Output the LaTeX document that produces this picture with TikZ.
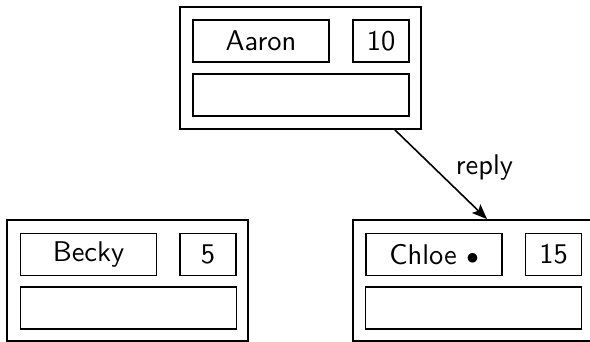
\documentclass[tikz,border=0pt]{standalone}
\usepackage{fontspec}
\setsansfont{lmsans10-regular.otf}
\usetikzlibrary{arrows.meta}
\begin{document}
\begin{tikzpicture}[x=1pt,y=-1pt,
  every node/.style={font=\sffamily\fontsize{28.5}{34}\selectfont},
  record/.style={draw,line width=1.8pt,minimum width=241pt,minimum height=121pt,inner sep=0pt},
  field/.style={draw,line width=1.8pt,minimum height=42pt,inner sep=0pt},
  namefield/.style={field,minimum width=136pt},
  keyfield/.style={field,minimum width=56pt},
  linkfield/.style={field,minimum width=216pt},
  link/.style={line width=1.6pt,-{Stealth[length=15pt,width=12pt,inset=3pt]}}]
\useasboundingbox (0,0) rectangle (590,342);

% root record
\node[record,minimum height=122pt] (aaron) at (300.5,68) {};
\node[namefield] (aaronname) at (261,41) {Aaron};
\node[keyfield] (aaronkey) at (381,41) {10};
\node[linkfield] (aaronlink) at (301,95) {};

% left record
\node[record] (becky) at (127.5,280.5) {};
\node[namefield] (beckyname) at (88.5,254.5) {Becky};
\node[keyfield] (beckykey) at (208,254.5) {5};
\node[linkfield] (beckylink) at (128.5,308) {};

% right record
\node[record] (chloe) at (473.5,280.5) {};
\node[namefield] (chloename) at (434,254.5) {Chloe $\bullet$};
\node[keyfield] (chloekey) at (553.5,254.5) {15};
\node[linkfield] (chloelink) at (473.5,308) {};

% reply pointer
\draw[link] ([xshift=-27pt]aaron.south east) -- ([xshift=13.5pt]chloe.north);
\node[anchor=base] (replylabel) at (484.5,175) {reply};
\end{tikzpicture}
\end{document}
